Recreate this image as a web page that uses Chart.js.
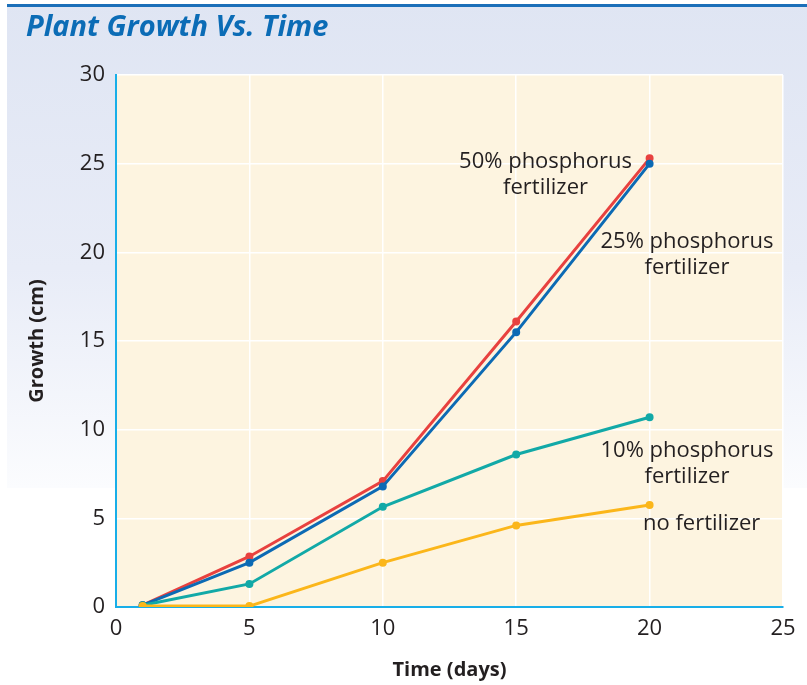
<!DOCTYPE html>
<html>
<head>
<meta charset="utf-8">
<script src="https://cdn.jsdelivr.net/npm/chart.js@4/dist/chart.umd.min.js"></script>
<style>
html,body{margin:0;padding:0;background:#ffffff;}
#wrap{width:807px;height:685px;position:relative;}
</style>
</head>
<body>
<div id="wrap"><canvas id="c" width="807" height="685"></canvas></div>
<script>
const days = [1, 5, 10, 15, 20];
const fert50 = [0.1, 2.85, 7.1, 16.1, 25.3];
const fert25 = [0.1, 2.5, 6.8, 15.5, 25.0];
const fert10 = [0.1, 1.3, 5.65, 8.6, 10.7];
const noFert = [0.05, 0.05, 2.5, 4.6, 5.75];
const xTicks = [0, 5, 10, 15, 20, 25];
const yTicks = [0, 5, 10, 15, 20, 25, 30];
const seriesNames = ["50% phosphorus fertilizer", "25% phosphorus fertilizer", "10% phosphorus fertilizer", "no fertilizer"];
const labelLines = [["50% phosphorus", "fertilizer"], ["25% phosphorus", "fertilizer"], ["10% phosphorus", "fertilizer"], ["no fertilizer"]];
const labelAnchorX = [16.1, 21.4, 21.4, 21.95];
const labelAnchorY = [25.1, 20.6, 8.8, 4.7];

const colors = ["#e8413f", "#0c6ab4", "#12a9a7", "#fbb61a"];
const seriesVals = [fert50, fert25, fert10, noFert];
const FONT = '"Open Sans", "Noto Sans", sans-serif';

function pts(vals){ return days.map((d,i)=>({x:d,y:vals[i]})); }

const bgPlugin = {
  id:'bg',
  beforeDraw(chart){
    const {ctx, chartArea:a} = chart;
    ctx.save();
    ctx.fillStyle = '#ffffff';
    ctx.fillRect(0,0,chart.width,chart.height);
    const g = ctx.createLinearGradient(0,0,0,488);
    g.addColorStop(0,'#dfe5f3');
    g.addColorStop(0.55,'#e8ecf7');
    g.addColorStop(1,'#fbfcfe');
    ctx.fillStyle = g;
    ctx.fillRect(7,6,chart.width-7,482);
    ctx.fillStyle = '#1b6fb9';
    ctx.fillRect(7,4,chart.width-7,3);
    ctx.fillStyle = '#fdf4e0';
    ctx.fillRect(a.left,a.top,a.right-a.left,a.bottom-a.top);
    ctx.fillStyle = '#0b6cb6';
    ctx.font = 'italic bold 29px ' + FONT;
    ctx.textBaseline = 'middle';
    ctx.textAlign = 'left';
    ctx.fillText('Plant Growth Vs. Time', 26, 28);
    ctx.restore();
  }
};

const labelPlugin = {
  id:'lbls',
  afterDatasetsDraw(chart){
    const {ctx, scales:{x,y}} = chart;
    ctx.save();
    ctx.fillStyle = '#231f20';
    ctx.font = '22px ' + FONT;
    ctx.textAlign = 'center';
    ctx.textBaseline = 'middle';
    labelLines.forEach((lines,i)=>{
      const px = x.getPixelForValue(labelAnchorX[i]);
      const py = y.getPixelForValue(labelAnchorY[i]);
      lines.forEach((t,j)=> ctx.fillText(t, px, py + j*26));
    });
    ctx.restore();
  }
};

new Chart(document.getElementById('c'), {
  type:'line',
  data:{
    datasets: seriesVals.map((v,i)=>({
      label: seriesNames[i],
      data: pts(v),
      borderColor: colors[i],
      backgroundColor: colors[i],
      borderWidth: 3,
      pointRadius: 2.5,
      pointHoverRadius: 2.5,
      tension: 0,
      fill:false
    })).reverse()
  },
  options:{
    responsive:false,
    animation:false,
    devicePixelRatio:1,
    layout:{padding:{top:75,right:24,bottom:0,left:0}},
    plugins:{legend:{display:false},tooltip:{enabled:false},title:{display:false}},
    scales:{
      x:{
        type:'linear', min:0, max:25,
        afterBuildTicks(s){ s.ticks = xTicks.map(v=>({value:v})); },
        afterFit(s){ s.height = 78; },
        grid:{color:'#ffffff', lineWidth:1.5, drawTicks:false},
        border:{display:true, color:'#18aee8', width:2},
        ticks:{color:'#231f20', font:{family:FONT, size:22}, padding:9, maxRotation:0},
        title:{display:true, text:'Time (days)', color:'#231f20', font:{family:FONT, size:20, weight:'bold'}, padding:{top:0,bottom:3}}
      },
      y:{
        type:'linear', min:0, max:30,
        afterBuildTicks(s){ s.ticks = yTicks.map(v=>({value:v})); },
        afterFit(s){ s.width = 116; },
        grid:{color:'#ffffff', lineWidth:1.5, drawTicks:false},
        border:{display:true, color:'#18aee8', width:2},
        ticks:{color:'#231f20', font:{family:FONT, size:22}, padding:11},
        title:{display:true, text:'Growth (cm)', color:'#231f20', font:{family:FONT, size:20, weight:'bold'}, padding:{top:25,bottom:0}}
      }
    }
  },
  plugins:[bgPlugin, labelPlugin]
});
</script>
</body>
</html>
